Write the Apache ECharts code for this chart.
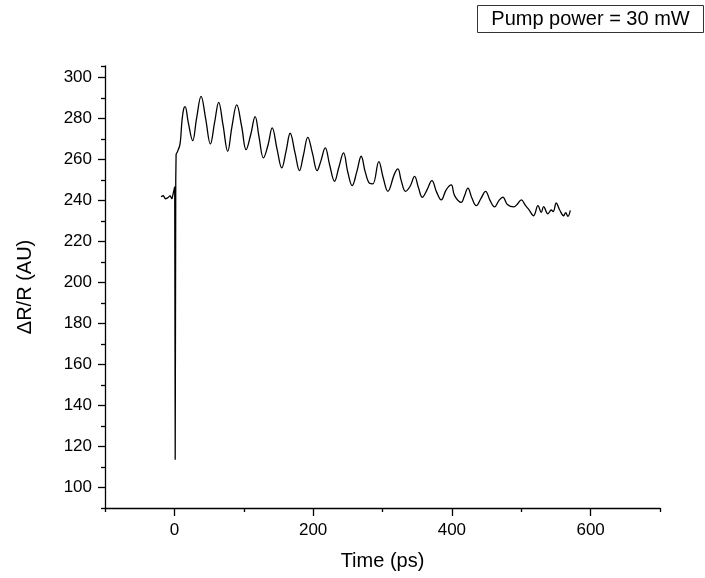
<!DOCTYPE html>
<html>
<head>
<meta charset="utf-8">
<script src="https://cdn.jsdelivr.net/npm/echarts@6/dist/echarts.min.js"></script>
<style>
  html, body { margin: 0; padding: 0; background: #fff; }
  #chart { width: 705px; height: 578px; }
</style>
</head>
<body>
<div id="chart"></div>
<script>
// time in ps
const times = [
  -19.2, -15.9, -13, -9.6, -6.3, -3.4, -1, 0.5, 1.2, 2, 2.5, 4.8, 8.2, 11, 13.4, 15.4,
  20, 26.4, 32, 38.5, 45, 51.9, 58, 63.9, 70, 76.9, 83, 89.9, 97, 103.4,
  110, 116.4, 122, 128.4, 135, 141, 148, 154.8, 161, 166.9, 174, 180.3,
  186, 192.3, 199, 205.8, 211, 217.4, 224, 230.8, 237, 243.8, 250, 256.3,
  263, 269.3, 275, 281.3, 286, 294.7, 301, 307.7, 317.3, 322.2, 327, 333.2,
  340, 346.2, 352, 357.3, 364, 371.2, 378, 384.6, 391.8, 399.1, 403.9, 413.5,
  418, 423.1, 429, 435.2, 442, 448.6, 455, 461.6, 468, 473.5, 480, 489.4,
  494, 500.1, 506, 511, 517.8, 524.1, 528.9, 532.2, 538.5, 543.3, 546, 550.5,
  555.4, 561.1, 564, 567.3, 570.7
];
// delta R / R (AU)
const signal = [
  241.8, 242.3, 240.7, 241.2, 242.3, 240.7, 241.5, 246.7, 113.5, 250, 262.6, 264, 267.5, 278.9, 284.6, 285.7,
  278, 269.1, 280, 290.7, 280, 267.5, 278, 287.8, 277, 263.9, 276, 286.5, 276, 264.7,
  272, 280.8, 271, 260.7, 267, 275.3, 265, 255.8, 264, 272.7, 263, 254.5,
  262, 270.7, 263, 254.5, 259, 265.6, 257, 249.3, 256, 263.1, 253.7, 247.2,
  254, 261.5, 254, 248.3, 248, 258.9, 251, 244.4, 252.9, 255.3, 249.6, 244.4,
  247, 251.7, 246, 241.5, 245, 249.6, 244, 240.2, 245.1, 247.5, 242.3, 239,
  242, 246, 241, 237.4, 241, 244.4, 240, 236.8, 240, 241.6, 238, 236.8,
  238, 240.2, 237.5, 235.5, 232.5, 237.4, 234.1, 236.9, 233.4, 235.3, 234.5, 238.7,
  235.3, 232.5, 234, 232.2, 235.1
];
const xMajor = [0, 200, 400, 600];
const xMinor = [-100, 100, 300, 500, 700];
const yMajor = [100, 120, 140, 160, 180, 200, 220, 240, 260, 280, 300];
const yMinor = [90, 110, 130, 150, 170, 190, 210, 230, 250, 270, 290, 305.5];

const points = times.map((t, i) => [t, signal[i]]);
// the spike around t = 0 is drawn straight, the oscillating part smoothed
const splitAt = 2.5;
const spikePart = points.filter(p => p[0] <= splitAt);
const decayPart = points.filter(p => p[0] >= splitAt);

const font = '"Liberation Sans", Arial, Helvetica, sans-serif';
const axisColor = { color: '#000', width: 1.3 };
const lineStyle = { color: '#000', width: 1.3 };

const chart = echarts.init(document.getElementById('chart'));
chart.setOption({
  animation: false,
  backgroundColor: '#fff',
  textStyle: { fontFamily: font },
  grid: { left: 105, right: 45, top: 66, bottom: 70 },
  xAxis: [
    {
      type: 'value', min: -100, max: 700, position: 'bottom',
      name: 'Time (ps)', nameLocation: 'middle', nameGap: 43,
      nameTextStyle: { fontSize: 20, color: '#000', fontFamily: font },
      axisLine: { onZero: false, lineStyle: axisColor },
      axisTick: { length: 8, customValues: xMajor, lineStyle: axisColor },
      axisLabel: { customValues: xMajor, fontSize: 17, color: '#000', margin: 14, fontFamily: font },
      splitLine: { show: false }
    },
    {
      type: 'value', min: -100, max: 700, position: 'bottom',
      axisLine: { show: false, onZero: false },
      axisTick: { length: 4, customValues: xMinor, lineStyle: axisColor },
      axisLabel: { show: false },
      splitLine: { show: false }
    }
  ],
  yAxis: [
    {
      type: 'value', min: 90, max: 305.5, position: 'left',
      name: 'ΔR/R (AU)', nameLocation: 'middle', nameGap: 70, nameRotate: 90,
      nameTextStyle: { fontSize: 20, color: '#000', fontFamily: font },
      axisLine: { show: true, onZero: false, lineStyle: axisColor },
      axisTick: { show: true, length: 7, customValues: yMajor, lineStyle: axisColor },
      axisLabel: { customValues: yMajor, fontSize: 17, color: '#000', margin: 13, fontFamily: font },
      splitLine: { show: false }
    },
    {
      type: 'value', min: 90, max: 305.5, position: 'left',
      axisLine: { show: false, onZero: false },
      axisTick: { show: true, length: 4, customValues: yMinor, lineStyle: axisColor },
      axisLabel: { show: false },
      splitLine: { show: false }
    }
  ],
  graphic: [
    {
      type: 'group', left: 477, top: 5,
      children: [
        { type: 'rect', shape: { x: 0, y: 0, width: 226, height: 27 },
          style: { fill: '#fff', stroke: '#333', lineWidth: 1 } },
        { type: 'text', x: 113, y: 14,
          style: { text: 'Pump power = 30 mW', font: '20px ' + font, fill: '#000',
                   textAlign: 'center', textVerticalAlign: 'middle' } }
      ]
    }
  ],
  series: [
    {
      type: 'line', xAxisIndex: 0, yAxisIndex: 0,
      data: spikePart, showSymbol: false, symbol: 'none',
      smooth: false, lineStyle: lineStyle
    },
    {
      type: 'line', xAxisIndex: 0, yAxisIndex: 0,
      data: decayPart, showSymbol: false, symbol: 'none',
      smooth: 0.4, lineStyle: lineStyle
    }
  ]
});
</script>
</body>
</html>
